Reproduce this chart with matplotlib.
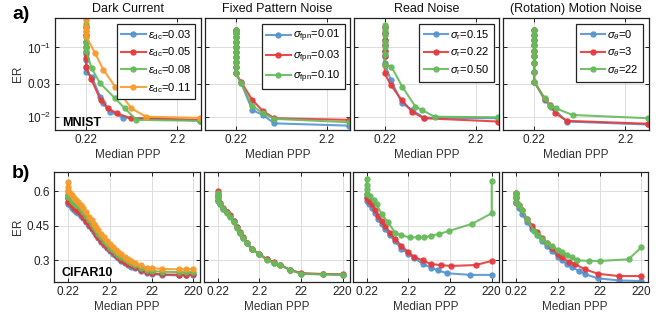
import matplotlib.pyplot as plt
from matplotlib.ticker import NullLocator

plt.rcParams['font.family'] = ['Liberation Sans', 'DejaVu Sans']
plt.rcParams['mathtext.fontset'] = 'custom'
plt.rcParams['mathtext.rm'] = 'Liberation Sans'
plt.rcParams['mathtext.it'] = 'Liberation Sans:italic'
plt.rcParams['mathtext.bf'] = 'Liberation Sans:bold'

colors = ['#5694cf', '#e6393b', '#66bb5b', '#f89b2c']
titles = ['Dark Current', 'Fixed Pattern Noise', 'Read Noise', '(Rotation) Motion Noise']

# legend labels per noise type
dc_labels = [r'$\epsilon_{\mathrm{dc}}$=0.03', r'$\epsilon_{\mathrm{dc}}$=0.05',
             r'$\epsilon_{\mathrm{dc}}$=0.08', r'$\epsilon_{\mathrm{dc}}$=0.11']
fpn_labels = [r'$\sigma_{\mathrm{fpn}}$=0.01', r'$\sigma_{\mathrm{fpn}}$=0.03', r'$\sigma_{\mathrm{fpn}}$=0.10']
rn_labels = [r'$\sigma_{\mathrm{r}}$=0.15', r'$\sigma_{\mathrm{r}}$=0.22', r'$\sigma_{\mathrm{r}}$=0.50']
mo_labels = [r'$\sigma_{\theta}$=0', r'$\sigma_{\theta}$=3', r'$\sigma_{\theta}$=22']

# ---------------- MNIST (a) ----------------
mn_dc_x = [
    [0.22, 0.22, 0.22, 0.22, 0.22, 0.22, 0.22, 0.22, 0.22, 0.254, 0.312, 0.339, 0.401, 0.56, 3.9],
    [0.22, 0.22, 0.22, 0.22, 0.22, 0.22, 0.22, 0.22, 0.249, 0.317, 0.385, 0.474, 0.679, 3.9],
    [0.22, 0.22, 0.22, 0.22, 0.22, 0.22, 0.22, 0.253, 0.312, 0.455, 0.584, 0.782, 3.9],
    [0.22, 0.22, 0.22, 0.22, 0.22, 0.275, 0.339, 0.455, 0.69, 1.0, 3.9],
]
mn_dc_y = [
    [0.3, 0.2, 0.15, 0.12, 0.1, 0.08, 0.065, 0.053, 0.045, 0.038, 0.0196, 0.0157, 0.0119, 0.0098, 0.0089],
    [0.3, 0.2, 0.15, 0.12, 0.1, 0.085, 0.07, 0.0515, 0.035, 0.0176, 0.0133, 0.0113, 0.0096, 0.0091],
    [0.3, 0.22, 0.17, 0.14, 0.12, 0.1, 0.088, 0.05, 0.0306, 0.0186, 0.0133, 0.0091, 0.0088],
    [0.3, 0.25, 0.2, 0.17, 0.144, 0.083, 0.048, 0.0274, 0.0133, 0.0101, 0.0097],
]
mn_fpn_x = [
    [0.22, 0.22, 0.22, 0.22, 0.22, 0.22, 0.22, 0.22, 0.22, 0.22, 0.253, 0.334, 0.436, 0.584, 3.9],
    [0.22, 0.22, 0.22, 0.22, 0.22, 0.22, 0.22, 0.22, 0.22, 0.22, 0.253, 0.334, 0.436, 0.584, 3.9],
    [0.22, 0.22, 0.22, 0.22, 0.22, 0.22, 0.22, 0.22, 0.22, 0.22, 0.253, 0.334, 0.436, 0.584, 3.9],
]
mn_fpn_y = [
    [0.18, 0.16, 0.14, 0.12, 0.1, 0.085, 0.072, 0.062, 0.052, 0.043, 0.0306, 0.0126, 0.0107, 0.0081, 0.0075],
    [0.18, 0.16, 0.14, 0.12, 0.1, 0.085, 0.072, 0.062, 0.052, 0.043, 0.0316, 0.0176, 0.0122, 0.0096, 0.0091],
    [0.18, 0.16, 0.14, 0.12, 0.1, 0.085, 0.072, 0.062, 0.052, 0.043, 0.0306, 0.0146, 0.0113, 0.0094, 0.0084],
]
mn_rn_x = [
    [0.22, 0.22, 0.22, 0.22, 0.22, 0.22, 0.22, 0.256, 0.342, 0.44, 0.589, 3.9],
    [0.22, 0.22, 0.22, 0.22, 0.22, 0.22, 0.22, 0.22, 0.256, 0.337, 0.44, 0.589, 3.9],
    [0.22, 0.22, 0.22, 0.22, 0.22, 0.22, 0.22, 0.26, 0.342, 0.478, 0.564, 0.775, 3.9],
]
mn_rn_y = [
    [0.2, 0.16, 0.13, 0.11, 0.09, 0.075, 0.0594, 0.0342, 0.0157, 0.0126, 0.0098, 0.0096],
    [0.2, 0.16, 0.13, 0.11, 0.09, 0.075, 0.056, 0.0427, 0.029, 0.0176, 0.0119, 0.0096, 0.0086],
    [0.21, 0.18, 0.15, 0.12, 0.1, 0.08, 0.0563, 0.0532, 0.0274, 0.0141, 0.0126, 0.0101, 0.0099],
]
mn_mo_x = [
    [0.22, 0.22, 0.22, 0.22, 0.22, 0.22, 0.22, 0.22, 0.22, 0.287, 0.339, 0.502, 3.9],
    [0.22, 0.22, 0.22, 0.22, 0.22, 0.22, 0.22, 0.22, 0.22, 0.287, 0.33, 0.375, 0.502, 3.9],
    [0.22, 0.22, 0.22, 0.22, 0.22, 0.22, 0.22, 0.22, 0.22, 0.287, 0.33, 0.382, 0.579, 3.9],
]
mn_mo_y = [
    [0.18, 0.15, 0.13, 0.11, 0.09, 0.075, 0.06, 0.045, 0.0323, 0.0176, 0.0141, 0.0086, 0.0078],
    [0.18, 0.15, 0.13, 0.11, 0.09, 0.075, 0.06, 0.045, 0.0323, 0.0182, 0.0149, 0.0113, 0.0088, 0.008],
    [0.18, 0.15, 0.13, 0.11, 0.09, 0.075, 0.06, 0.045, 0.0323, 0.0186, 0.0146, 0.0133, 0.0107, 0.0096],
]

# ---------------- CIFAR10 (b) ----------------
cf_dc_xs = [0.22, 0.22, 0.22, 0.24, 0.27, 0.3, 0.34, 0.38, 0.44, 0.5, 0.6, 0.7, 0.8, 0.9, 1.0, 1.13,
            1.35, 1.6, 1.9, 2.2, 2.6, 3.0, 3.5, 4.1, 5.0, 6.0, 7.2, 8.6, 12, 17, 22, 40, 100, 150, 220]
cf_dc_y = [
    [0.57, 0.555, 0.545, 0.54, 0.53, 0.52, 0.512, 0.505, 0.495, 0.485, 0.467, 0.45, 0.437, 0.425, 0.41, 0.395,
     0.38, 0.367, 0.353, 0.34, 0.329, 0.318, 0.308, 0.298, 0.289, 0.28, 0.272, 0.265, 0.253, 0.245, 0.24, 0.236, 0.234, 0.235, 0.236],
    [0.585, 0.57, 0.555, 0.55, 0.54, 0.53, 0.522, 0.515, 0.503, 0.49, 0.472, 0.455, 0.442, 0.43, 0.415, 0.40,
     0.385, 0.37, 0.357, 0.345, 0.334, 0.323, 0.313, 0.303, 0.294, 0.285, 0.277, 0.27, 0.258, 0.248, 0.243, 0.238, 0.237, 0.237, 0.238],
    [0.60, 0.585, 0.575, 0.57, 0.56, 0.55, 0.543, 0.535, 0.523, 0.51, 0.492, 0.475, 0.46, 0.445, 0.43, 0.415,
     0.4, 0.385, 0.37, 0.355, 0.344, 0.333, 0.323, 0.313, 0.304, 0.295, 0.287, 0.28, 0.268, 0.258, 0.253, 0.25, 0.248, 0.248, 0.248],
    [0.64, 0.62, 0.60, 0.593, 0.585, 0.57, 0.562, 0.555, 0.543, 0.53, 0.51, 0.49, 0.475, 0.46, 0.445, 0.43,
     0.415, 0.40, 0.385, 0.37, 0.357, 0.345, 0.335, 0.325, 0.315, 0.305, 0.297, 0.29, 0.277, 0.268, 0.265, 0.262, 0.26, 0.261, 0.262],
]
cf_fpn_xs = [0.22, 0.22, 0.22, 0.25, 0.3, 0.36, 0.44, 0.53, 0.63, 0.75, 0.91, 1.1, 1.44, 2.2, 3.3, 4.8, 6.9, 11.9, 22, 76, 220]
cf_fpn_y = [
    [0.59, 0.575, 0.56, 0.545, 0.525, 0.51, 0.494, 0.47, 0.443, 0.42, 0.399, 0.375, 0.348, 0.326, 0.304, 0.29, 0.28, 0.258, 0.242, 0.239, 0.237],
    [0.60, 0.58, 0.565, 0.55, 0.53, 0.512, 0.496, 0.472, 0.446, 0.422, 0.40, 0.377, 0.35, 0.327, 0.305, 0.291, 0.28, 0.259, 0.243, 0.24, 0.238],
    [0.595, 0.58, 0.562, 0.547, 0.522, 0.507, 0.49, 0.468, 0.44, 0.418, 0.397, 0.373, 0.347, 0.325, 0.303, 0.289, 0.279, 0.257, 0.241, 0.238, 0.237],
]
cf_rn_x = [
    [0.22, 0.22, 0.25, 0.29, 0.34, 0.417, 0.5, 0.6, 0.8, 1.04, 1.5, 2.2, 3.07, 4.8, 7.6, 11, 19, 68, 220],
    [0.22, 0.22, 0.25, 0.29, 0.34, 0.417, 0.5, 0.6, 0.8, 1.04, 1.5, 2.2, 3.07, 4.8, 7.6, 13, 22.8, 90, 220],
    [0.22, 0.22, 0.22, 0.22, 0.264, 0.32, 0.38, 0.5, 0.72, 1.04, 1.5, 2.37, 3.67, 5.3, 7.6, 12, 20.8, 74.6, 220, 220],
]
cf_rn_y = [
    [0.575, 0.559, 0.545, 0.53, 0.508, 0.479, 0.458, 0.435, 0.408, 0.385, 0.348, 0.329, 0.309, 0.285, 0.268, 0.256, 0.243, 0.236, 0.236],
    [0.591, 0.57, 0.557, 0.545, 0.52, 0.494, 0.47, 0.45, 0.42, 0.392, 0.363, 0.334, 0.313, 0.30, 0.283, 0.279, 0.275, 0.279, 0.297],
    [0.654, 0.63, 0.61, 0.588, 0.581, 0.565, 0.545, 0.501, 0.465, 0.421, 0.408, 0.40, 0.40, 0.40, 0.407, 0.414, 0.428, 0.459, 0.505, 0.647],
]
cf_mo_x = [
    [0.22, 0.22, 0.22, 0.25, 0.306, 0.4, 0.53, 0.7, 0.92, 1.2, 1.6, 2.2, 2.74, 3.6, 4.76, 7, 10, 20, 63, 220],
    [0.22, 0.22, 0.22, 0.25, 0.306, 0.4, 0.53, 0.7, 0.92, 1.2, 1.6, 2.2, 2.74, 4.0, 5.7, 10, 20, 63, 220],
    [0.22, 0.22, 0.22, 0.25, 0.306, 0.4, 0.58, 0.75, 0.92, 1.2, 1.6, 2.2, 2.74, 3.6, 4.76, 6.3, 12, 22.8, 109, 220],
]
cf_mo_y = [
    [0.59, 0.57, 0.55, 0.53, 0.502, 0.466, 0.436, 0.41, 0.385, 0.36, 0.341, 0.315, 0.30, 0.285, 0.271, 0.253, 0.239, 0.221, 0.212, 0.209],
    [0.595, 0.575, 0.555, 0.54, 0.517, 0.48, 0.451, 0.422, 0.397, 0.373, 0.353, 0.325, 0.312, 0.294, 0.282, 0.26, 0.241, 0.231, 0.231],
    [0.595, 0.575, 0.555, 0.54, 0.517, 0.48, 0.429, 0.41, 0.392, 0.375, 0.363, 0.345, 0.334, 0.322, 0.312, 0.30, 0.297, 0.297, 0.304, 0.356],
]

fig = plt.figure(figsize=(6.67, 3.21), dpi=100)
W, H = 667.0, 321.0
lefts = [55, 204.5, 353.5, 503]
aw = 146

def style(ax):
    ax.set_xscale('log')
    for s in ax.spines.values():
        s.set_color('#222222')
        s.set_linewidth(0.9)
    ax.grid(True, color='#dddddd', linewidth=0.7)
    ax.set_axisbelow(True)
    ax.tick_params(direction='in', top=True, right=True, length=3, width=0.7,
                   labelsize=8.5, colors='#222222', pad=3)
    ax.set_xlabel('Median PPP', fontsize=8.5, color='#333333', labelpad=2)

def draw(ax, xs, ys, labels=None):
    for i in range(len(ys)):
        lab = labels[i] if labels else None
        ax.plot(xs[i], ys[i], '-o', color=colors[i], lw=1.5, ms=3.6, alpha=0.9, label=lab)

top_x = [mn_dc_x, mn_fpn_x, mn_rn_x, mn_mo_x]
top_y = [mn_dc_y, mn_fpn_y, mn_rn_y, mn_mo_y]
top_labels = [dc_labels, fpn_labels, rn_labels, mo_labels]

for k in range(4):
    ax = fig.add_axes([lefts[k] / W, 1 - 130 / H, aw / W, 112 / H])
    style(ax)
    ax.set_yscale('log')
    draw(ax, top_x[k], top_y[k], top_labels[k])
    ax.set_xlim(0.1, 4.0)
    ax.set_ylim(0.0065, 0.265)
    ax.set_xticks([0.22, 2.2])
    ax.set_xticklabels(['0.22', '2.2'])
    ax.set_yticks([0.01, 0.03, 0.1])
    ax.set_yticklabels([r'$10^{-2}$', '0.03', r'$10^{-1}$'])
    ax.xaxis.set_minor_locator(NullLocator())
    ax.yaxis.set_minor_locator(NullLocator())
    ax.set_title(titles[k], fontsize=9, color='#111111', pad=4)
    leg = ax.legend(loc='upper right', fontsize=8, handlelength=2.2, borderpad=0.4,
                    labelspacing=0.35, handletextpad=0.2, fancybox=False,
                    framealpha=1, edgecolor='#222222', borderaxespad=0.5)
    leg.get_frame().set_linewidth(0.9)
    if k == 0:
        ax.set_ylabel('ER', fontsize=8.5, color='#333333', labelpad=2)
        ax.text(0.05, 0.04, 'MNIST', transform=ax.transAxes, fontsize=9, fontweight='bold')
    else:
        ax.set_yticklabels([])

bot_x = [[cf_dc_xs] * 4, [cf_fpn_xs] * 3, cf_rn_x, cf_mo_x]
bot_y = [cf_dc_y, cf_fpn_y, cf_rn_y, cf_mo_y]

for k in range(4):
    ax = fig.add_axes([(lefts[k] - 1) / W, 1 - 282 / H, aw / W, 110 / H])
    style(ax)
    draw(ax, bot_x[k], bot_y[k])
    ax.set_xlim(0.1, 320)
    ax.set_ylim(0.205, 0.685)
    ax.set_xticks([0.22, 2.2, 22, 220])
    ax.set_xticklabels(['0.22', '2.2', '22', '220'])
    ax.set_yticks([0.3, 0.45, 0.6])
    ax.xaxis.set_minor_locator(NullLocator())
    if k == 0:
        ax.set_yticklabels(['0.3', '0.45', '0.6'])
        ax.set_ylabel('ER', fontsize=8.5, color='#333333', labelpad=2)
        ax.text(0.05, 0.05, 'CIFAR10', transform=ax.transAxes, fontsize=9, fontweight='bold')
    else:
        ax.set_yticklabels([])

fig.text(12 / W, 1 - 19 / H, 'a)', fontsize=14, fontweight='bold')
fig.text(12 / W, 1 - 178 / H, 'b)', fontsize=14, fontweight='bold')

fig.savefig('out.png', dpi=100)
